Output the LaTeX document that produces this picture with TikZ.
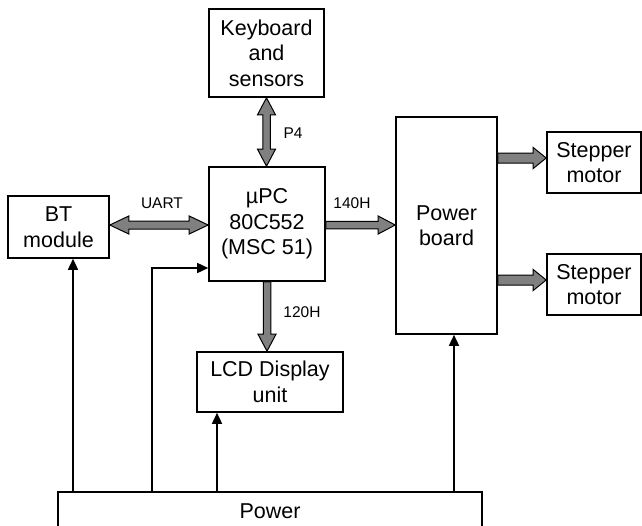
\documentclass[tikz,border=0pt]{standalone}
\usepackage{fontspec}
\setmainfont{Liberation Sans}
\usetikzlibrary{calc,arrows.meta}
\definecolor{fatgray}{RGB}{128,128,128}
\newcommand\fatR[2]{\filldraw[fat] let \p1=(#1), \p2=(#2) in
  (\x1,\y1+3.75) -- (\x2-17,\y1+3.75) -- (\x2-17,\y1+9) -- (\x2,\y1) -- (\x2-17,\y1-9) -- (\x2-17,\y1-3.75) -- (\x1,\y1-3.75) -- cycle;}
\newcommand\fatRwide[2]{\filldraw[fat] let \p1=(#1), \p2=(#2) in
  (\x1,\y1+5) -- (\x2-13,\y1+5) -- (\x2-13,\y1+10.5) -- (\x2,\y1) -- (\x2-13,\y1-10.5) -- (\x2-13,\y1-5) -- (\x1,\y1-5) -- cycle;}
\newcommand\fatLR[2]{\filldraw[fat] let \p1=(#1), \p2=(#2) in
  (\x1,\y1) -- (\x1+19,\y1+9) -- (\x1+19,\y1+4) -- (\x2-19,\y1+4) -- (\x2-19,\y1+9) -- (\x2,\y1) -- (\x2-19,\y1-9) -- (\x2-19,\y1-4) -- (\x1+19,\y1-4) -- (\x1+19,\y1-9) -- cycle;}
\newcommand\fatD[2]{\filldraw[fat] let \p1=(#1), \p2=(#2) in
  (\x1-3.75,\y1) -- (\x1-3.75,\y2+17) -- (\x1-9,\y2+17) -- (\x1,\y2) -- (\x1+9,\y2+17) -- (\x1+3.75,\y2+17) -- (\x1+3.75,\y1) -- cycle;}
\newcommand\fatUD[2]{\filldraw[fat] let \p1=(#1), \p2=(#2) in
  (\x1,\y1) -- (\x1+9,\y1-17) -- (\x1+3.75,\y1-17) -- (\x1+3.75,\y2+17) -- (\x1+9,\y2+17) -- (\x1,\y2) -- (\x1-9,\y2+17) -- (\x1-3.75,\y2+17) -- (\x1-3.75,\y1-17) -- (\x1-9,\y1-17) -- cycle;}
\begin{document}
\begin{tikzpicture}[x=1pt,y=-1pt,
  box/.style={draw=black,line width=1.6pt,fill=white,align=center,inner sep=0pt,
    font=\fontsize{21.5}{25.5}\selectfont},
  fat/.style={draw=black,line width=1pt,fill=fatgray,line join=miter},
  lbl/.style={font=\fontsize{15.5}{18}\selectfont,inner sep=0pt},
  feed/.style={draw=black,line width=1.5pt,-{Triangle[length=11pt,width=10pt]}},
  wire/.style={draw=black,line width=1.5pt}]
\useasboundingbox (0,0) rectangle (642,525);
\node[box,minimum width=115pt,minimum height=88pt] (kb) at (266.5,53) {Keyboard\\and\\sensors};
\node[box,minimum width=116pt,minimum height=114pt] (upc) at (267,224) {µPC\\80C552\\(MSC 51)};
\node[box,minimum width=101pt,minimum height=62pt] (bt) at (58.5,227) {BT\\module};
\node[box,minimum width=101pt,minimum height=217pt] (pb) at (446.5,225.5) {Power\\board};
\node[box,minimum width=94pt,minimum height=61pt] (st1) at (594,162.5) {Stepper\\motor};
\node[box,minimum width=94pt,minimum height=61pt] (st2) at (594,284.5) {Stepper\\motor};
\node[box,minimum width=146pt,minimum height=60pt] (lcd) at (270,382) {LCD Display\\unit};
\node[box,minimum width=424pt,minimum height=46pt,anchor=north] (pw) at (270,491) {};
\node[box,draw=none,fill=none] (pwt) at (270,511) {Power};
% helper coordinates
\coordinate (xa) at (73,0);
\coordinate (xb) at (152,0);
\coordinate (xc) at (217,0);
\coordinate (xd) at (454,0);
\coordinate (yb) at (0,268);
\coordinate (ym) at (0,225);
\coordinate (ys1) at (0,158);
\coordinate (ys2) at (0,280);
% thin feed lines
\draw[feed] (pw.north -| xa) -- (bt.south -| xa);
\draw[feed] (pw.north -| xb) |- (upc.west |- yb);
\draw[feed] (pw.north -| xc) -- (lcd.south -| xc);
\draw[feed] (pw.north -| xd) -- (pb.south -| xd);
% fat arrows
\fatLR{bt.east |- ym}{upc.west |- ym}
\fatUD{kb.south}{upc.north}
\fatR{upc.east |- ym}{pb.west |- ym}
\fatD{upc.south}{lcd.north}
\fatRwide{pb.east |- ys1}{st1.west |- ys1}
\fatRwide{pb.east |- ys2}{st2.west |- ys2}
% labels
\node[lbl] (luart) at (162,203) {UART};
\node[lbl] (lp4) at (293,133) {P4};
\node[lbl] (l140) at (352,203) {140H};
\node[lbl] (l120) at (302,312) {120H};
\end{tikzpicture}
\end{document}
